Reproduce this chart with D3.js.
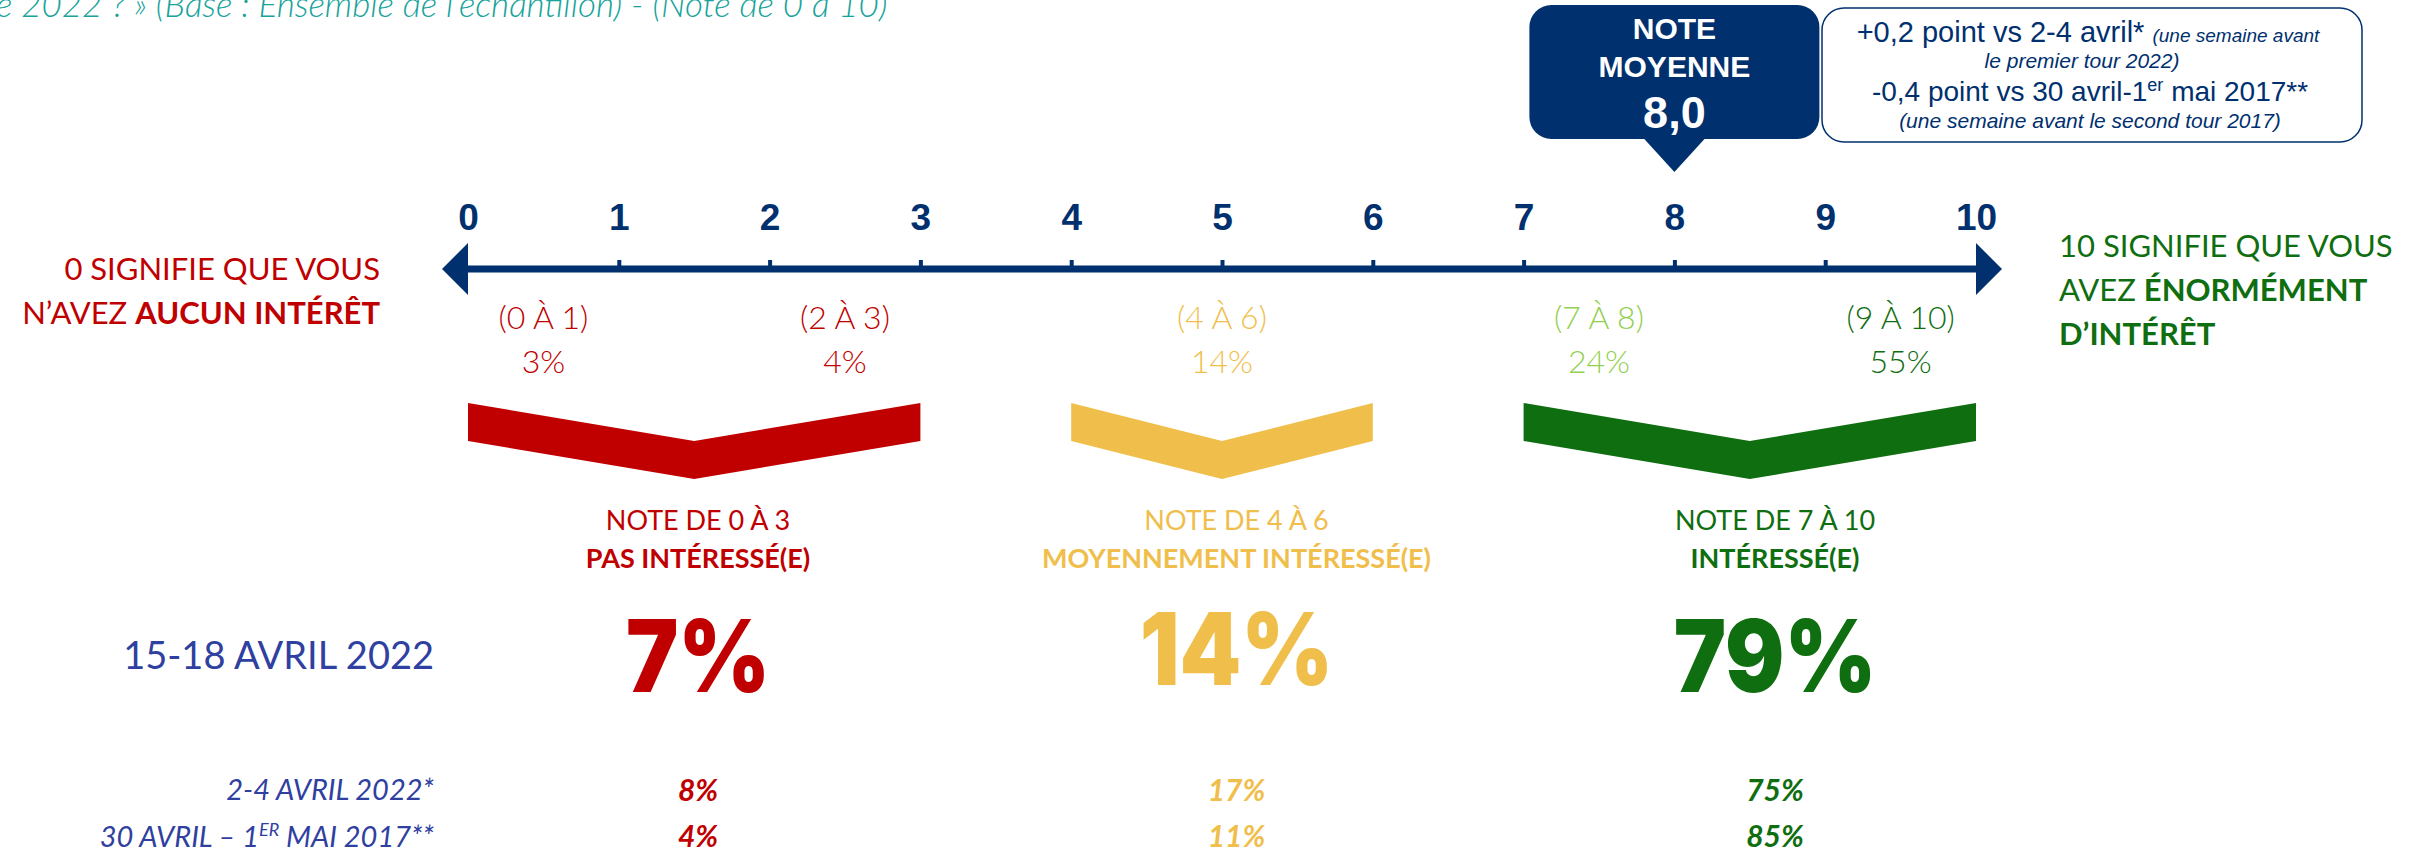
<!DOCTYPE html>
<html lang="fr">
<head>
<meta charset="utf-8">
<script src="https://cdn.jsdelivr.net/npm/d3@7.9.0/dist/d3.min.js"></script>
<style>
  body { margin: 0; background: #fff; }
  svg { display: block; }
  .cal { font-family: Lato, "Open Sans", sans-serif; }
  .arial { font-family: "Liberation Sans", Arial, sans-serif; }
  .black { font-family: Inter, Roboto, "Liberation Sans", sans-serif; font-weight: 900; }
</style>
</head>
<body>
<svg id="chart" width="2428" height="855"></svg>
<script>
// --- data ---
const titleText = 'e 2022 ? » (Base : Ensemble de l’échantillon) - (Note de 0 à 10)';
const scoreTicks = [0, 1, 2, 3, 4, 5, 6, 7, 8, 9, 10];
const rangeLabels = ['(0 À 1)', '(2 À 3)', '(4 À 6)', '(7 À 8)', '(9 À 10)'];
const rangeLo = [0, 2, 4, 7, 9];
const rangeHi = [1, 3, 6, 8, 10];
const rangeShares = [3, 4, 14, 24, 55];
const groupNames = ['NOTE DE 0 À 3', 'NOTE DE 4 À 6', 'NOTE DE 7 À 10'];
const groupTitles = ['PAS INTÉRESSÉ(E)', 'MOYENNEMENT INTÉRESSÉ(E)', 'INTÉRESSÉ(E)'];
const groupLo = [0, 4, 7];
const groupHi = [3, 6, 10];
const waves = ['15-18 AVRIL 2022', '2-4 AVRIL 2022*', '30 AVRIL – 1'];
const shareApr2022 = [7, 14, 79];
const shareEarlyApr2022 = [8, 17, 75];
const shareMay2017 = [4, 11, 85];
const meanScore = 8.0;

// --- colours ---
const navy = '#00306e';
const red = '#c00000';
const yellow = '#f0be4b';
const lightGreen = '#92d050';
const darkGreen = '#0f6e0f';
const blue = '#2f40a0';
const teal = '#17a39b';
const rangeColors = [red, red, yellow, lightGreen, darkGreen];
const groupColors = [red, yellow, darkGreen];

const svg = d3.select('#chart');
const x = d3.scaleLinear().domain([0, 10]).range([468, 1976]);
const col = d3.scalePoint().domain(groupNames).range([698, 1775]);
const axisY = 269;
const fmt = d3.format(',.1f');

// title (cut at the top like the slide)
svg.append('text')
  .attr('class', 'cal')
  .attr('x', -4).attr('y', 17)
  .attr('fill', teal)
  .attr('font-size', 35)
  .attr('font-style', 'italic')
  .attr('font-weight', 300)
  .text(titleText);

// axis with arrows
const axisG = svg.append('g').attr('transform', `translate(0,${axisY})`);
axisG.append('line')
  .attr('x1', x(0)).attr('x2', x(10))
  .attr('stroke', navy).attr('stroke-width', 7);
axisG.selectAll('path.head')
  .data([0, 10])
  .join('path')
  .attr('class', 'head')
  .attr('d', d => {
    const b = x(d), s = d === 0 ? -1 : 1;
    return `M${b},-26L${b + s * 26},0L${b},26Z`;
  })
  .attr('fill', navy);

const axis = d3.axisTop(x)
  .tickValues(scoreTicks)
  .tickSizeInner(9)
  .tickSizeOuter(0)
  .tickPadding(30)
  .tickFormat(d3.format('d'));
const ax = axisG.append('g').call(axis);
ax.select('.domain').remove();
ax.selectAll('.tick line')
  .attr('stroke', navy)
  .attr('stroke-width', 4)
  .attr('opacity', d => (d === 0 || d === 10) ? 0 : 1);
ax.selectAll('.tick text')
  .attr('class', 'arial')
  .attr('fill', navy)
  .attr('font-size', 37)
  .attr('font-weight', 'bold');

// end labels
const leftLab = svg.append('text').attr('class', 'cal')
  .attr('text-anchor', 'end').attr('fill', red).attr('font-size', 31);
leftLab.append('tspan').attr('x', 380).attr('y', 280).text('0 SIGNIFIE QUE VOUS');
const l2 = leftLab.append('tspan').attr('x', 380).attr('y', 324);
l2.append('tspan').text('N’AVEZ ');
l2.append('tspan').attr('font-weight', 'bold').text('AUCUN INTÉRÊT');

const rightLab = svg.append('text').attr('class', 'cal')
  .attr('fill', darkGreen).attr('font-size', 31);
rightLab.append('tspan').attr('x', 2059).attr('y', 257).text('10 SIGNIFIE QUE VOUS');
const r2 = rightLab.append('tspan').attr('x', 2059).attr('y', 301);
r2.append('tspan').text('AVEZ ');
r2.append('tspan').attr('font-weight', 'bold').text('ÉNORMÉMENT');
rightLab.append('tspan').attr('x', 2059).attr('y', 345).attr('font-weight', 'bold').text('D’INTÉRÊT');

// detail ranges under the axis
svg.selectAll('text.range')
  .data(rangeLabels)
  .join('text')
  .attr('class', 'range cal')
  .attr('x', (d, i) => x((rangeLo[i] + rangeHi[i]) / 2))
  .attr('y', 329)
  .attr('text-anchor', 'middle')
  .attr('font-size', 32)
  .attr('font-weight', 300)
  .attr('fill', (d, i) => rangeColors[i])
  .text(d => d);
svg.selectAll('text.rshare')
  .data(rangeShares)
  .join('text')
  .attr('class', 'rshare cal')
  .attr('x', (d, i) => x((rangeLo[i] + rangeHi[i]) / 2))
  .attr('y', 373)
  .attr('text-anchor', 'middle')
  .attr('font-size', 32)
  .attr('font-weight', 300)
  .attr('fill', (d, i) => rangeColors[i])
  .text(d => `${d}%`);

// chevrons
const chevTop = 403, chevT = 38;
svg.selectAll('path.chev')
  .data(groupNames)
  .join('path')
  .attr('class', 'chev')
  .attr('fill', (d, i) => groupColors[i])
  .attr('d', (d, i) => {
    const x0 = x(groupLo[i]), x1 = x(groupHi[i]), xm = (x0 + x1) / 2;
    return `M${x0},${chevTop}L${xm},${chevTop + chevT}L${x1},${chevTop}` +
      `L${x1},${chevTop + chevT}L${xm},${chevTop + 2 * chevT}L${x0},${chevTop + chevT}Z`;
  });

// group labels
svg.selectAll('text.gname')
  .data(groupNames)
  .join('text')
  .attr('class', 'gname cal')
  .attr('x', d => col(d)).attr('y', 530)
  .attr('text-anchor', 'middle')
  .attr('font-size', 27)
  .attr('fill', (d, i) => groupColors[i])
  .text(d => d);
svg.selectAll('text.gtitle')
  .data(groupTitles)
  .join('text')
  .attr('class', 'gtitle cal')
  .attr('x', (d, i) => col(groupNames[i])).attr('y', 568)
  .attr('text-anchor', 'middle')
  .attr('font-size', 27)
  .attr('font-weight', 'bold')
  .attr('fill', (d, i) => groupColors[i])
  .text(d => d);

// wave labels
svg.append('text').attr('class', 'cal')
  .attr('x', 434).attr('y', 669)
  .attr('text-anchor', 'end').attr('font-size', 38).attr('fill', blue)
  .text(waves[0]);
svg.append('text').attr('class', 'cal')
  .attr('x', 434).attr('y', 800)
  .attr('text-anchor', 'end').attr('font-size', 29).attr('font-style', 'italic').attr('fill', blue)
  .text(waves[1]);
const w3 = svg.append('text').attr('class', 'cal')
  .attr('x', 434).attr('y', 847)
  .attr('text-anchor', 'end').attr('font-size', 29).attr('font-style', 'italic').attr('fill', blue);
w3.append('tspan').text(waves[2]);
w3.append('tspan').attr('dy', -11).attr('font-size', 18).text('ER');
w3.append('tspan').attr('dy', 11).text(' MAI 2017**');

// big numbers
svg.selectAll('text.big')
  .data(shareApr2022)
  .join('text')
  .attr('class', 'big black')
  .attr('transform', (d, i) => `translate(${col(groupNames[i])},${i === 1 ? 685 : 692}) scale(0.88,1)`)
  .attr('text-anchor', 'middle')
  .attr('font-size', 100)
  .attr('fill', (d, i) => groupColors[i])
  .text(d => `${d}%`);

// previous waves
[shareEarlyApr2022, shareMay2017].forEach((arr, k) => {
  svg.selectAll(`text.prev${k}`)
    .data(arr)
    .join('text')
    .attr('class', `prev${k} cal`)
    .attr('x', (d, i) => col(groupNames[i])).attr('y', k === 0 ? 801 : 847)
    .attr('text-anchor', 'middle')
    .attr('font-size', 30)
    .attr('font-weight', 'bold')
    .attr('font-style', 'italic')
    .attr('fill', (d, i) => groupColors[i])
    .text(d => `${d}%`);
});

// mean score bubble
const mx = x(meanScore);
const bubble = svg.append('g');
bubble.append('rect')
  .attr('x', mx - 145).attr('y', 5)
  .attr('width', 290).attr('height', 134)
  .attr('rx', 22)
  .attr('fill', navy);
bubble.append('path')
  .attr('d', `M${mx - 31},138L${mx},172L${mx + 31},138Z`)
  .attr('fill', navy);
const bt = bubble.append('text').attr('class', 'arial')
  .attr('text-anchor', 'middle').attr('fill', '#fff').attr('font-weight', 'bold');
bt.append('tspan').attr('x', mx).attr('y', 39).attr('font-size', 30).text('NOTE');
bt.append('tspan').attr('x', mx).attr('y', 77).attr('font-size', 30).text('MOYENNE');
bt.append('tspan').attr('x', mx).attr('y', 128).attr('font-size', 45).text(fmt(meanScore).replace('.', ','));

// comparison note
const note = svg.append('g');
note.append('rect')
  .attr('x', 1822).attr('y', 8)
  .attr('width', 540).attr('height', 134)
  .attr('rx', 22)
  .attr('fill', '#fff')
  .attr('stroke', navy).attr('stroke-width', 1.5);
const nt = note.append('text').attr('class', 'arial')
  .attr('text-anchor', 'middle').attr('fill', navy);
const n1 = nt.append('tspan').attr('x', 2088).attr('y', 42);
n1.append('tspan').attr('font-size', 29).text('+0,2 point vs 2-4 avril* ');
n1.append('tspan').attr('font-size', 19).attr('font-style', 'italic').text('(une semaine avant');
nt.append('tspan').attr('x', 2082).attr('y', 68).attr('font-size', 21).attr('font-style', 'italic')
  .text('le premier tour 2022)');
const n3 = nt.append('tspan').attr('x', 2090).attr('y', 101).attr('font-size', 28);
n3.append('tspan').text('-0,4 point vs 30 avril-1');
n3.append('tspan').attr('dy', -10).attr('font-size', 18).text('er');
n3.append('tspan').attr('dy', 10).text(' mai 2017**');
nt.append('tspan').attr('x', 2090).attr('y', 128).attr('font-size', 21).attr('font-style', 'italic')
  .text('(une semaine avant le second tour 2017)');
</script>
</body>
</html>
